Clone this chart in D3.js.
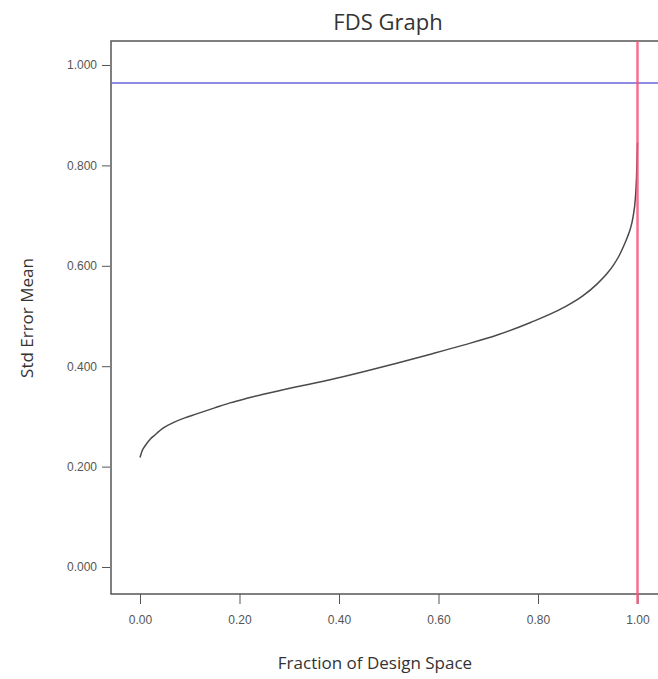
<!DOCTYPE html>
<html><head><meta charset="utf-8">
<script src="https://cdn.jsdelivr.net/npm/d3@7"></script>
<style>html,body{margin:0;padding:0;background:#fff;}svg{display:block;font-family:"Open Sans","Noto Sans",sans-serif;}</style>
</head><body>
<svg id="chart" width="658" height="679"></svg>
<script>
const fraction = [0, 0.005, 0.01, 0.02, 0.03, 0.047, 0.07, 0.09, 0.114, 0.15, 0.181, 0.215, 0.248, 0.315, 0.382, 0.449, 0.516, 0.584, 0.65, 0.718, 0.785, 0.852, 0.89, 0.919, 0.94, 0.952, 0.963, 0.972, 0.98, 0.986, 0.991, 0.996, 0.998, 1.0];
const stdErr = [0.218, 0.233, 0.241, 0.254, 0.263, 0.277, 0.289, 0.297, 0.305, 0.317, 0.327, 0.336, 0.344, 0.359, 0.373, 0.389, 0.406, 0.424, 0.442, 0.462, 0.487, 0.517, 0.540, 0.564, 0.586, 0.602, 0.620, 0.639, 0.658, 0.675, 0.697, 0.738, 0.775, 0.845];
const xTicks = [0, 0.2, 0.4, 0.6, 0.8, 1.0];
const yTicks = [0, 0.2, 0.4, 0.6, 0.8, 1.0];
const thresholdY = 0.964;
const thresholdX = 1.0;
const titleText = "FDS Graph";
const xLabel = "Fraction of Design Space";
const yLabel = "Std Error Mean";

const svg = d3.select("#chart");
const frame = {left: 111, top: 41, right: 665, bottom: 594};
const x = d3.scaleLinear().domain([0, 1]).range([140, 637.5]);
const y = d3.scaleLinear().domain([0, 1]).range([567, 65]);

// frame
svg.append("rect").attr("x", frame.left).attr("y", frame.top)
  .attr("width", frame.right - frame.left).attr("height", frame.bottom - frame.top)
  .attr("fill", "none").attr("stroke", "#555").attr("stroke-width", 1.5);

// y axis
const yAxis = d3.axisLeft(y).tickValues(yTicks).tickFormat(d3.format(".3f")).tickSize(8).tickPadding(5);
const gy = svg.append("g").attr("transform", `translate(${frame.left - 1},0)`).call(yAxis);
gy.select(".domain").remove();
gy.selectAll("line").attr("stroke", "#555");
gy.selectAll("text").attr("fill", "#555").attr("font-size", 12);

// x axis
const xAxis = d3.axisBottom(x).tickValues(xTicks).tickFormat(d3.format(".2f")).tickSize(10).tickPadding(11);
const gx = svg.append("g").attr("transform", `translate(0,${frame.bottom})`).call(xAxis);
gx.select(".domain").remove();
gx.selectAll("line").attr("stroke", "#555");
gx.selectAll("text").attr("fill", "#555").attr("font-size", 12);

// threshold lines
svg.append("line").attr("x1", frame.left).attr("x2", frame.right)
  .attr("y1", y(thresholdY)).attr("y2", y(thresholdY))
  .attr("stroke", "#6b64d8").attr("stroke-width", 1.5);

// curve
const line = d3.line().x((d, i) => x(fraction[i])).y(d => y(d)).curve(d3.curveMonotoneX);
svg.append("path").datum(stdErr).attr("d", line)
  .attr("fill", "none").attr("stroke", "#4a4a4a").attr("stroke-width", 1.5);

svg.append("line").attr("x1", x(thresholdX)).attr("x2", x(thresholdX))
  .attr("y1", frame.top).attr("y2", frame.bottom + 10)
  .attr("stroke", "#f2577a").attr("stroke-opacity", 0.85).attr("stroke-width", 2.5);

// titles
svg.append("text").attr("x", 388).attr("y", 30).attr("text-anchor", "middle")
  .attr("font-size", 22).attr("fill", "#333").text(titleText);
svg.append("text").attr("x", 375).attr("y", 669).attr("text-anchor", "middle")
  .attr("font-size", 17).attr("fill", "#333").text(xLabel);
svg.append("text").attr("transform", "translate(33,318) rotate(-90)").attr("text-anchor", "middle")
  .attr("font-size", 17).attr("fill", "#333").text(yLabel);
</script>
</body></html>
